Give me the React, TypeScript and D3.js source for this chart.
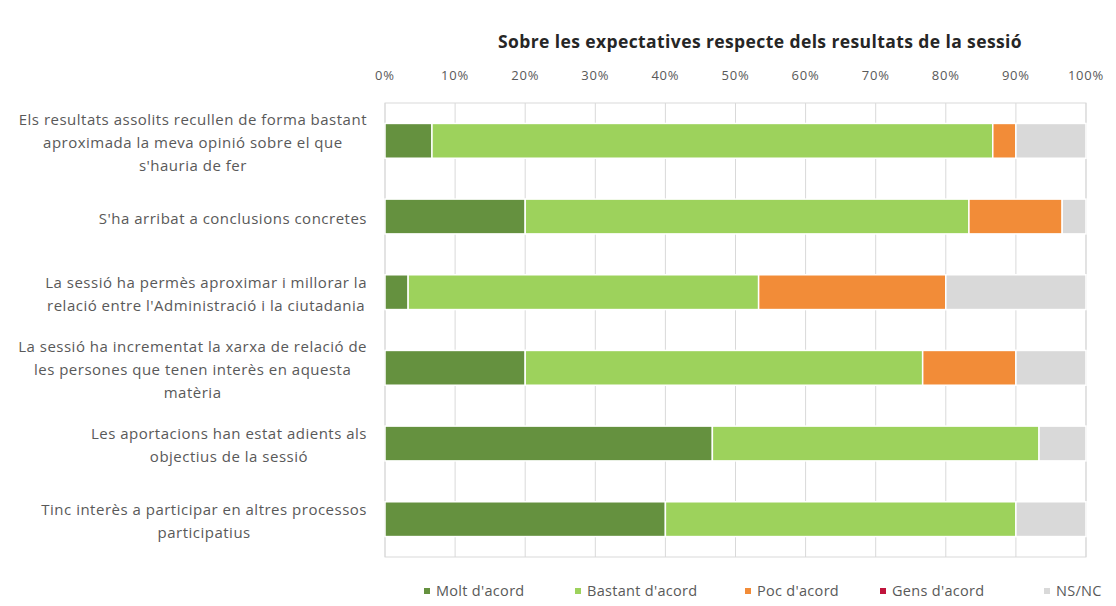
import { useEffect, useRef } from "react";
import * as d3 from "d3";

// category labels, already broken into lines the way the chart wraps them
const categories: string[][] = [
  [
    "Els resultats assolits recullen de forma bastant",
    "aproximada la meva opinió sobre el que",
    "s'hauria de fer",
  ],
  ["S'ha arribat a conclusions concretes"],
  [
    "La sessió ha permès aproximar i millorar la",
    "relació entre l'Administració i la ciutadania",
  ],
  [
    "La sessió ha incrementat la xarxa de relació de",
    "les persones que tenen interès en aquesta",
    "matèria",
  ],
  ["Les aportacions han estat adients als", "objectius de la sessió"],
  ["Tinc interès a participar en altres processos", "participatius"],
];

const seriesNames = [
  "Molt d'acord",
  "Bastant d'acord",
  "Poc d'acord",
  "Gens d'acord",
  "NS/NC",
];

// percentages per category
const moltAcord = [6.7, 20, 3.3, 20, 46.7, 40];
const bastantAcord = [80, 63.3, 50, 56.7, 46.6, 50];
const pocAcord = [3.3, 13.3, 26.7, 13.3, 0, 0];
const gensAcord = [0, 0, 0, 0, 0, 0];
const nsnc = [10, 3.4, 20, 10, 6.7, 10];

const xTicks = [0, 10, 20, 30, 40, 50, 60, 70, 80, 90, 100];

const colors = ["#65913f", "#9dd25c", "#f28c38", "#c0143c", "#d9d9d9"];

// legend marker x positions (layout)
const legendX = [427, 578, 748, 883, 1047];

const WIDTH = 1116;
const HEIGHT = 606;
const FONT = "'Open Sans', sans-serif";

export default function App() {
  const svgRef = useRef<SVGSVGElement>(null);

  useEffect(() => {
    if (!svgRef.current) return;
    const svg = d3.select(svgRef.current);
    svg.selectAll("*").remove();

    const left = 385;
    const right = 1086;
    const top = 103;
    const bottom = 557;

    const x = d3.scaleLinear().domain([0, 100]).range([left, right]);
    const y = d3
      .scaleBand<number>()
      .domain(d3.range(categories.length))
      .range([top, bottom])
      .paddingInner(0.54)
      .paddingOuter(0.27);

    const rows = categories.map((_, i) => ({
      [seriesNames[0]]: moltAcord[i],
      [seriesNames[1]]: bastantAcord[i],
      [seriesNames[2]]: pocAcord[i],
      [seriesNames[3]]: gensAcord[i],
      [seriesNames[4]]: nsnc[i],
    }));
    const stacked = d3.stack<any>().keys(seriesNames)(rows);

    // title
    svg
      .append("text")
      .attr("x", 760)
      .attr("y", 43)
      .attr("text-anchor", "middle")
      .attr("dominant-baseline", "middle")
      .attr("font-family", FONT)
      .attr("font-size", "17.5px")
      .attr("letter-spacing", "0.4px")
      .attr("font-weight", "bold")
      .attr("fill", "#262626")
      .text("Sobre les expectatives respecte dels resultats de la sessió");

    // gridlines
    svg
      .append("g")
      .selectAll("line")
      .data(xTicks)
      .join("line")
      .attr("x1", (d) => x(d))
      .attr("x2", (d) => x(d))
      .attr("y1", top)
      .attr("y2", bottom)
      .attr("stroke", "#d9d9d9")
      .attr("stroke-width", 1);

    svg
      .append("rect")
      .attr("x", left)
      .attr("y", top)
      .attr("width", right - left)
      .attr("height", bottom - top)
      .attr("fill", "none")
      .attr("stroke", "#d9d9d9");

    // tick labels on top
    svg
      .append("g")
      .selectAll("text")
      .data(xTicks)
      .join("text")
      .attr("x", (d) => x(d))
      .attr("y", 77)
      .attr("text-anchor", "middle")
      .attr("dominant-baseline", "middle")
      .attr("font-family", FONT)
      .attr("font-size", "13px")
      .attr("letter-spacing", "0.8px")
      .attr("fill", "#595959")
      .text((d) => `${d}%`);

    // bars
    stacked.forEach((layer, si) => {
      svg
        .append("g")
        .attr("fill", colors[si])
        .selectAll("rect")
        .data(layer)
        .join("rect")
        .attr("x", (d) => x(d[0]))
        .attr("y", (_, i) => y(i)!)
        .attr("width", (d) => Math.max(0, x(d[1]) - x(d[0])))
        .attr("height", y.bandwidth())
        .attr("stroke", "#ffffff")
        .attr("stroke-width", (d) => (d[1] - d[0] > 0 ? 1.5 : 0));
    });

    // category labels: block right-aligned, lines centered within block
    const labelRight = 367;
    const lineH = 23;
    categories.forEach((lines, i) => {
      const cy = y(i)! + y.bandwidth() / 2 + 3;
      const g = svg.append("g");
      const texts = g
        .selectAll("text")
        .data(lines)
        .join("text")
        .attr("y", (_, j) => cy + (j - (lines.length - 1) / 2) * lineH)
        .attr("dominant-baseline", "middle")
        .attr("text-anchor", "middle")
        .attr("font-family", FONT)
        .attr("font-size", "15px")
        .attr("letter-spacing", "0.5px")
        .attr("fill", "#595959")
        .text((d) => d);
      let maxW = 0;
      texts.each(function () {
        maxW = Math.max(maxW, (this as SVGTextElement).getComputedTextLength());
      });
      texts.attr("x", labelRight - maxW / 2);
    });

    // legend
    const ly = 592;
    seriesNames.forEach((name, si) => {
      const lx = legendX[si];
      svg
        .append("rect")
        .attr("x", lx - 3)
        .attr("y", ly - 4)
        .attr("width", 6)
        .attr("height", 6)
        .attr("fill", colors[si]);
      svg
        .append("text")
        .attr("x", lx + 9)
        .attr("y", ly)
        .attr("dominant-baseline", "middle")
        .attr("font-family", FONT)
        .attr("font-size", "14.5px")
        .attr("letter-spacing", "0.3px")
        .attr("fill", "#595959")
        .text(name);
    });
  }, []);

  return (
    <div style={{ position: "fixed", left: 0, top: 0, background: "#fff" }}>
      <svg ref={svgRef} width={WIDTH} height={HEIGHT} style={{ display: "block" }} />
    </div>
  );
}
